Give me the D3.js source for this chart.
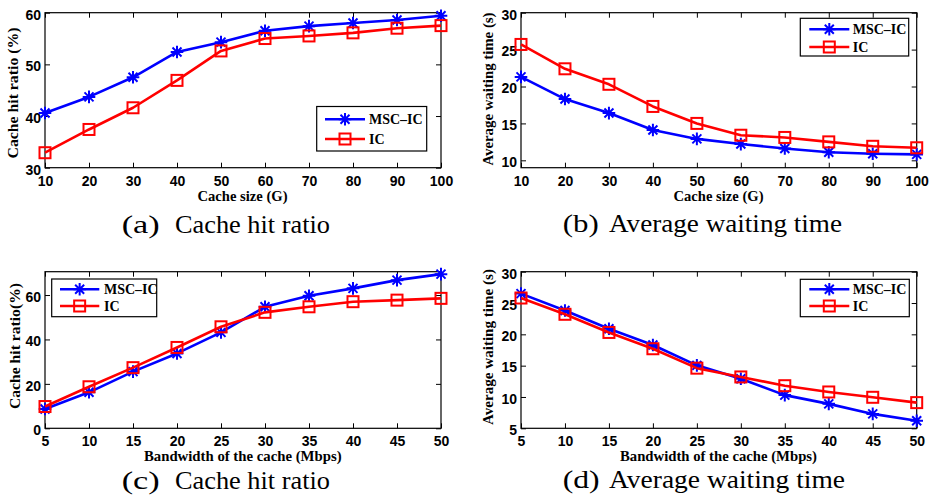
<!DOCTYPE html>
<html><head><meta charset="utf-8">
<script src="https://cdn.jsdelivr.net/npm/d3@7"></script>
<style>
html,body{margin:0;padding:0;background:#fff;}
svg{display:block;}
.tick text{font-family:"Liberation Sans",Arial,sans-serif;font-weight:bold;font-size:14px;fill:#000;}
</style></head>
<body>
<script>
// ---- data ----
const cacheSizes = [10, 20, 30, 40, 50, 60, 70, 80, 90, 100];
const bandwidths = [5, 10, 15, 20, 25, 30, 35, 40, 45, 50];
const seriesNames = ["MSC–IC", "IC"];

const hitRatioSizeMSC = [40.6, 43.7, 47.5, 52.4, 54.3, 56.5, 57.4, 58.0, 58.6, 59.4];
const hitRatioSizeIC  = [32.9, 37.4, 41.6, 46.9, 52.6, 55.0, 55.5, 56.1, 57.0, 57.5];
const waitSizeMSC = [21.3, 18.3, 16.4, 14.1, 12.9, 12.2, 11.6, 11.1, 10.9, 10.8];
const waitSizeIC  = [25.7, 22.4, 20.3, 17.3, 15.0, 13.4, 13.1, 12.5, 11.9, 11.7];
const hitRatioBwMSC = [8.7, 16.2, 25.5, 33.7, 43.2, 54.7, 59.7, 63.0, 66.7, 69.4];
const hitRatioBwIC  = [9.8, 18.7, 27.3, 36.4, 45.7, 52.2, 54.7, 57.0, 57.7, 58.5];
const waitBwMSC = [26.5, 23.8, 20.9, 18.3, 15.05, 12.9, 10.3, 8.9, 7.3, 6.2];
const waitBwIC  = [25.8, 23.2, 20.3, 17.7, 14.6, 13.2, 11.8, 10.8, 9.95, 9.1];

const yTicksA = [30, 40, 50, 60];
const yTicksB = [10, 15, 20, 25, 30];
const yTicksC = [0, 20, 40, 60];
const yTicksD = [5, 10, 15, 20, 25, 30];

const xLabelSize = "Cache size (G)";
const xLabelBw = "Bandwidth of the cache (Mbps)";
const yLabelA = "Cache hit ratio (%)";
const yLabelB = "Average waiting time (s)";
const yLabelC = "Cache hit ratio(%)";
const yLabelD = "Average waiting time (s)";
const capTags = ["(a)", "(b)", "(c)", "(d)"];
const capTexts = ["Cache hit ratio", "Average waiting time", "Cache hit ratio", "Average waiting time"];

// ---- layout ----
const svg = d3.select("body").append("svg").attr("width", 933).attr("height", 502);
svg.append("rect").attr("width", 933).attr("height", 502).attr("fill", "#fff");

const panels = [
  {x: cacheSizes, msc: hitRatioSizeMSC, ic: hitRatioSizeIC, yDom: [30, 60], yTicks: yTicksA,
   box: [45, 12.7, 441, 167.7], xLab: xLabelSize, xLabX: 242.5, xLabY: 201, xLabW: 90,
   yLab: yLabelA, yLabX: 18, yLabC: 93, yLabW: 131,
   leg: [316.7, 106.5, 426.7, 151], legRows: [119.3, 139], legLine: [325, 365], legText: 369,
   cap: [121.7, 38, 175, 155, 233]},
  {x: cacheSizes, msc: waitSizeMSC, ic: waitSizeIC, yDom: [9, 30], yTicks: yTicksB,
   box: [521, 12.7, 916.7, 167.7], xLab: xLabelSize, xLabX: 718.5, xLabY: 201, xLabW: 90,
   yLab: yLabelB, yLabX: 493, yLabC: 89, yLabW: 153,
   leg: [800.3, 18.3, 908.7, 56], legRows: [29.3, 47], legLine: [809.3, 849.3], legText: 852.7,
   cap: [562.7, 36, 609, 233, 232]},
  {x: bandwidths, msc: hitRatioBwMSC, ic: hitRatioBwIC, yDom: [0, 70.5], yTicks: yTicksC,
   box: [45, 271.7, 441, 428.3], xLab: xLabelBw, xLabX: 242.8, xLabY: 460.5, xLabW: 197.7,
   yLab: yLabelC, yLabX: 20, yLabC: 346, yLabW: 126,
   leg: [51.7, 279, 156.7, 316.7], legRows: [289.3, 306], legLine: [60, 99.3], legText: 104,
   cap: [121.7, 38, 175, 155, 489]},
  {x: bandwidths, msc: waitBwMSC, ic: waitBwIC, yDom: [5, 30], yTicks: yTicksD,
   box: [521, 271.7, 916.7, 428.3], xLab: xLabelBw, xLabX: 718.5, xLabY: 460.5, xLabW: 197,
   yLab: yLabelD, yLabX: 493, yLabC: 347, yLabW: 156,
   leg: [800.3, 279.3, 909.3, 316.7], legRows: [289.3, 306], legLine: [809.3, 849.3], legText: 852.7,
   cap: [562.7, 37, 609, 236, 488]}
];

const BLUE = "#0000ff", RED = "#ff0000";
const starPath = "M-6.3,0H6.3M0,-6.3V6.3M-4.5,-4.5L4.5,4.5M-4.5,4.5L4.5,-4.5";

function drawStar(g, x, y) {
  g.append("path").attr("d", starPath).attr("transform", `translate(${x},${y})`)
    .attr("stroke", BLUE).attr("stroke-width", 2).attr("fill", "none");
}
function drawSquare(g, x, y) {
  g.append("rect").attr("x", x - 5.5).attr("y", y - 5.5).attr("width", 11).attr("height", 11)
    .attr("stroke", RED).attr("stroke-width", 2).attr("fill", "none");
}

panels.forEach((p, i) => {
  const [x0, y0, x1, y1] = p.box;
  const xs = d3.scaleLinear().domain(d3.extent(p.x)).range([x0, x1]);
  const ys = d3.scaleLinear().domain(p.yDom).range([y1, y0]);
  const g = svg.append("g");

  // axes with inward ticks
  const ax = g.append("g").attr("transform", `translate(0,${y1})`)
    .call(d3.axisBottom(xs).tickValues(p.x).tickSizeInner(-5).tickSizeOuter(0).tickPadding(8));
  const ay = g.append("g").attr("transform", `translate(${x0},0)`)
    .call(d3.axisLeft(ys).tickValues(p.yTicks).tickSizeInner(-5).tickSizeOuter(0).tickPadding(4));
  ay.selectAll(".tick text").attr("dy", "0.45em");
  const at = g.append("g").attr("transform", `translate(0,${y0})`)
    .call(d3.axisTop(xs).tickValues(p.x).tickSizeInner(-5).tickSizeOuter(0).tickFormat(""));
  const ar = g.append("g").attr("transform", `translate(${x1},0)`)
    .call(d3.axisRight(ys).tickValues(p.yTicks).tickSizeInner(-5).tickSizeOuter(0).tickFormat(""));
  [ax, ay, at, ar].forEach(a => {
    a.select(".domain").remove();
    a.selectAll(".tick line").attr("stroke", "#000").attr("stroke-width", 1);
  });
  g.append("rect").attr("x", x0).attr("y", y0).attr("width", x1 - x0).attr("height", y1 - y0)
    .attr("fill", "none").attr("stroke", "#000").attr("stroke-width", 1.2);

  // lines
  const line = d3.line().x(d => xs(d[0])).y(d => ys(d[1]));
  const mscPts = p.x.map((v, k) => [v, p.msc[k]]);
  const icPts = p.x.map((v, k) => [v, p.ic[k]]);
  const drawMSC = () => {
    g.append("path").datum(mscPts).attr("d", line).attr("fill", "none")
      .attr("stroke", BLUE).attr("stroke-width", 2.6).attr("stroke-linejoin", "round");
    mscPts.forEach(d => drawStar(g, xs(d[0]), ys(d[1])));
  };
  const drawIC = () => {
    g.append("path").datum(icPts).attr("d", line).attr("fill", "none")
      .attr("stroke", RED).attr("stroke-width", 2.6).attr("stroke-linejoin", "round");
    icPts.forEach(d => drawSquare(g, xs(d[0]), ys(d[1])));
  };
  drawMSC();
  drawIC();

  // axis labels
  g.append("text").attr("x", p.xLabX).attr("y", p.xLabY).attr("text-anchor", "middle")
    .attr("font-family", "Liberation Serif, Times New Roman, serif").attr("font-weight", "bold")
    .attr("font-size", 15).attr("textLength", p.xLabW).attr("lengthAdjust", "spacingAndGlyphs")
    .text(p.xLab);
  g.append("text").attr("transform", `translate(${p.yLabX},${p.yLabC}) rotate(-90)`)
    .attr("text-anchor", "middle")
    .attr("font-family", "Liberation Serif, Times New Roman, serif").attr("font-weight", "bold")
    .attr("font-size", 15).attr("textLength", p.yLabW).attr("lengthAdjust", "spacingAndGlyphs")
    .text(p.yLab);

  // legend
  const [lx0, ly0, lx1, ly1] = p.leg;
  g.append("rect").attr("x", lx0).attr("y", ly0).attr("width", lx1 - lx0).attr("height", ly1 - ly0)
    .attr("fill", "#fff").attr("stroke", "#000").attr("stroke-width", 1.2);
  const mid = (p.legLine[0] + p.legLine[1]) / 2;
  [[BLUE, drawStar], [RED, drawSquare]].forEach(([col, mk], k) => {
    const yy = p.legRows[k];
    g.append("line").attr("x1", p.legLine[0]).attr("x2", p.legLine[1]).attr("y1", yy).attr("y2", yy)
      .attr("stroke", col).attr("stroke-width", 2.6);
    mk(g, mid, yy);
    g.append("text").attr("x", p.legText).attr("y", yy).attr("dy", "0.35em")
      .attr("font-family", "Liberation Serif, Times New Roman, serif").attr("font-weight", "bold")
      .attr("font-size", 14).text(seriesNames[k]);
  });

  // caption
  const [cx, cw, tx, tw, cy] = p.cap;
  svg.append("text").attr("x", cx).attr("y", cy)
    .attr("font-family", "Liberation Serif, Times New Roman, serif").attr("font-size", 25)
    .attr("textLength", cw).attr("lengthAdjust", "spacingAndGlyphs").text(capTags[i]);
  svg.append("text").attr("x", tx).attr("y", cy)
    .attr("font-family", "Liberation Serif, Times New Roman, serif").attr("font-size", 25)
    .attr("textLength", tw).attr("lengthAdjust", "spacingAndGlyphs").text(capTexts[i]);
});
</script>
</body></html>
